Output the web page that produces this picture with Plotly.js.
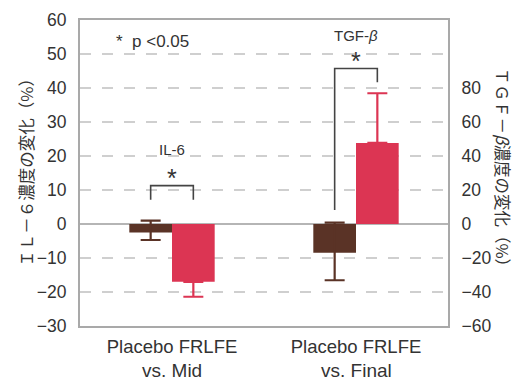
<!DOCTYPE html>
<html><head><meta charset="utf-8">
<script src="https://cdn.plot.ly/plotly-3.0.1.min.js"></script>
<style>body{margin:0;background:#fff}#c{width:515px;height:382px}</style>
</head><body><div id="c"></div>
<script>
// ---- data ----
const groups = [0, 1];
const groupTickText = ["Placebo FRLFE", "Placebo FRLFE"];
const groupLabels = ["vs. Mid", "vs. Final"];
const markerNames = ["IL-6", "TGF-<i>β</i>"];
// IL-6 (left axis, %)
const il6Placebo = [-2.5];
const il6PlaceboErrUp = [3.5];
const il6PlaceboErrDown = [2.2];
const il6Frlfe = [-17.0];
const il6FrlfeErrUp = [0];
const il6FrlfeErrDown = [4.4];
// TGF-β (right axis, %)
const tgfPlacebo = [-16.9];
const tgfPlaceboErrUp = [17.7];
const tgfPlaceboErrDown = [16.2];
const tgfFrlfe = [47.7];
const tgfFrlfeErrUp = [29.2];
const tgfFrlfeErrDown = [0];
const leftTicks = [-30, -20, -10, 0, 10, 20, 30, 40, 50, 60];
const rightTicks = [-60, -40, -20, 0, 20, 40, 60, 80];

const brown = '#5a3326', red = '#dc3553', frame = '#a9a9a9', txt = '#333333';
const F = 'Liberation Sans, Arial, Noto Sans CJK JP, sans-serif';
const FJ = 'Noto Sans CJK JP, sans-serif';
const W = 0.232;

function barTrace(x, y, up, down, color, axis, offset) {
  return {type: 'bar', x: x, y: y, yaxis: axis, width: W, offset: offset,
    marker: {color: color, line: {width: 0}},
    error_y: {type: 'data', symmetric: false, array: up, arrayminus: down,
      color: color, thickness: 2.2, width: 10},
    showlegend: false, hoverinfo: 'none'};
}
const data = [
  barTrace([groups[0]], il6Placebo, il6PlaceboErrUp, il6PlaceboErrDown, brown, 'y', -W),
  barTrace([groups[0]], il6Frlfe, il6FrlfeErrUp, il6FrlfeErrDown, red, 'y', 0),
  barTrace([groups[1]], tgfPlacebo, tgfPlaceboErrUp, tgfPlaceboErrDown, brown, 'y2', -W),
  barTrace([groups[1]], tgfFrlfe, tgfFrlfeErrUp, tgfFrlfeErrDown, red, 'y2', 0)
];

const bracketLine = {color: '#444', width: 1.6};
const shapes = [
  {type: 'path', xref: 'x', yref: 'y', line: bracketLine,
   path: `M ${groups[0]-W/2},7.1 L ${groups[0]-W/2},11.3 L ${groups[0]+W/2},11.3 L ${groups[0]+W/2},7.1`},
  {type: 'path', xref: 'x', yref: 'y2', line: bracketLine,
   path: `M ${groups[1]-W/2},8.3 L ${groups[1]-W/2},91.5 L ${groups[1]+W/2},91.5 L ${groups[1]+W/2},83.4`}
];

const annotations = [
  {xref: 'x', yref: 'y', x: groups[0], y: 21.8, text: markerNames[0], showarrow: false, font: {family: F, size: 15, color: txt}},
  {xref: 'x', yref: 'y', x: groups[0], y: 13.4, text: '*', showarrow: false, font: {family: F, size: 25, color: txt}},
  {xref: 'x', yref: 'y2', x: groups[1], y: 110.6, text: markerNames[1], showarrow: false, font: {family: F, size: 15, color: txt}},
  {xref: 'x', yref: 'y2', x: groups[1], y: 96.0, text: '*', showarrow: false, font: {family: F, size: 25, color: txt}},
  {xref: 'x', yref: 'y', x: -0.105, y: 53.6, text: '*  p &lt;0.05', showarrow: false, font: {family: F, size: 17, color: txt}},
  {xref: 'x', yref: 'paper', x: groups[0], y: -0.146, yanchor: 'middle', text: groupLabels[0], showarrow: false, font: {family: F, size: 19, color: txt}},
  {xref: 'x', yref: 'paper', x: groups[1], y: -0.146, yanchor: 'middle', text: groupLabels[1], showarrow: false, font: {family: F, size: 19, color: txt}},
  {xref: 'paper', yref: 'paper', x: -0.146, y: 0.515, xanchor: 'center', yanchor: 'middle', textangle: -90,
   text: 'ＩＬ－６濃度の変化（%）', showarrow: false, font: {family: FJ, size: 16.5, color: txt}},
  {xref: 'paper', yref: 'paper', x: 1.148, y: 0.505, xanchor: 'center', yanchor: 'middle', textangle: 90,
   text: 'ＴＧＦ－<i>β</i>濃度の変化（%）', showarrow: false, font: {family: FJ, size: 16.5, color: txt}}
];

const layout = {
  width: 515, height: 382,
  margin: {l: 80, r: 67, t: 20, b: 56, pad: 0},
  paper_bgcolor: '#fff', plot_bgcolor: '#fff',
  font: {family: F, color: txt},
  barmode: 'overlay',
  xaxis: {range: [-0.5, 1.5], tickvals: groups, ticktext: groupTickText,
    tickfont: {family: F, size: 18.5, color: txt}, showgrid: false, zeroline: false,
    showline: true, mirror: true, linecolor: frame, linewidth: 2, ticks: '', ticklabelstandoff: 3, fixedrange: true},
  yaxis: {range: [-30, 60], tickvals: leftTicks, showgrid: true, gridcolor: '#cfcfcf', gridwidth: 1.5,
    griddash: '11px,11px', zeroline: true, zerolinecolor: '#b5b5b5', zerolinewidth: 1.2,
    showline: true, linecolor: frame, linewidth: 2, ticks: '', ticklabelstandoff: 8,
    tickfont: {family: F, size: 17.5, color: txt}},
  yaxis2: {range: [-60, 120], tickvals: rightTicks, overlaying: 'y', side: 'right', showgrid: false,
    zeroline: false, showline: true, linecolor: frame, linewidth: 2, ticks: '', ticklabelstandoff: 8,
    tickfont: {family: F, size: 17.5, color: txt}},
  shapes: shapes, annotations: annotations
};
Plotly.newPlot('c', data, layout, {staticPlot: true});
</script></body></html>
